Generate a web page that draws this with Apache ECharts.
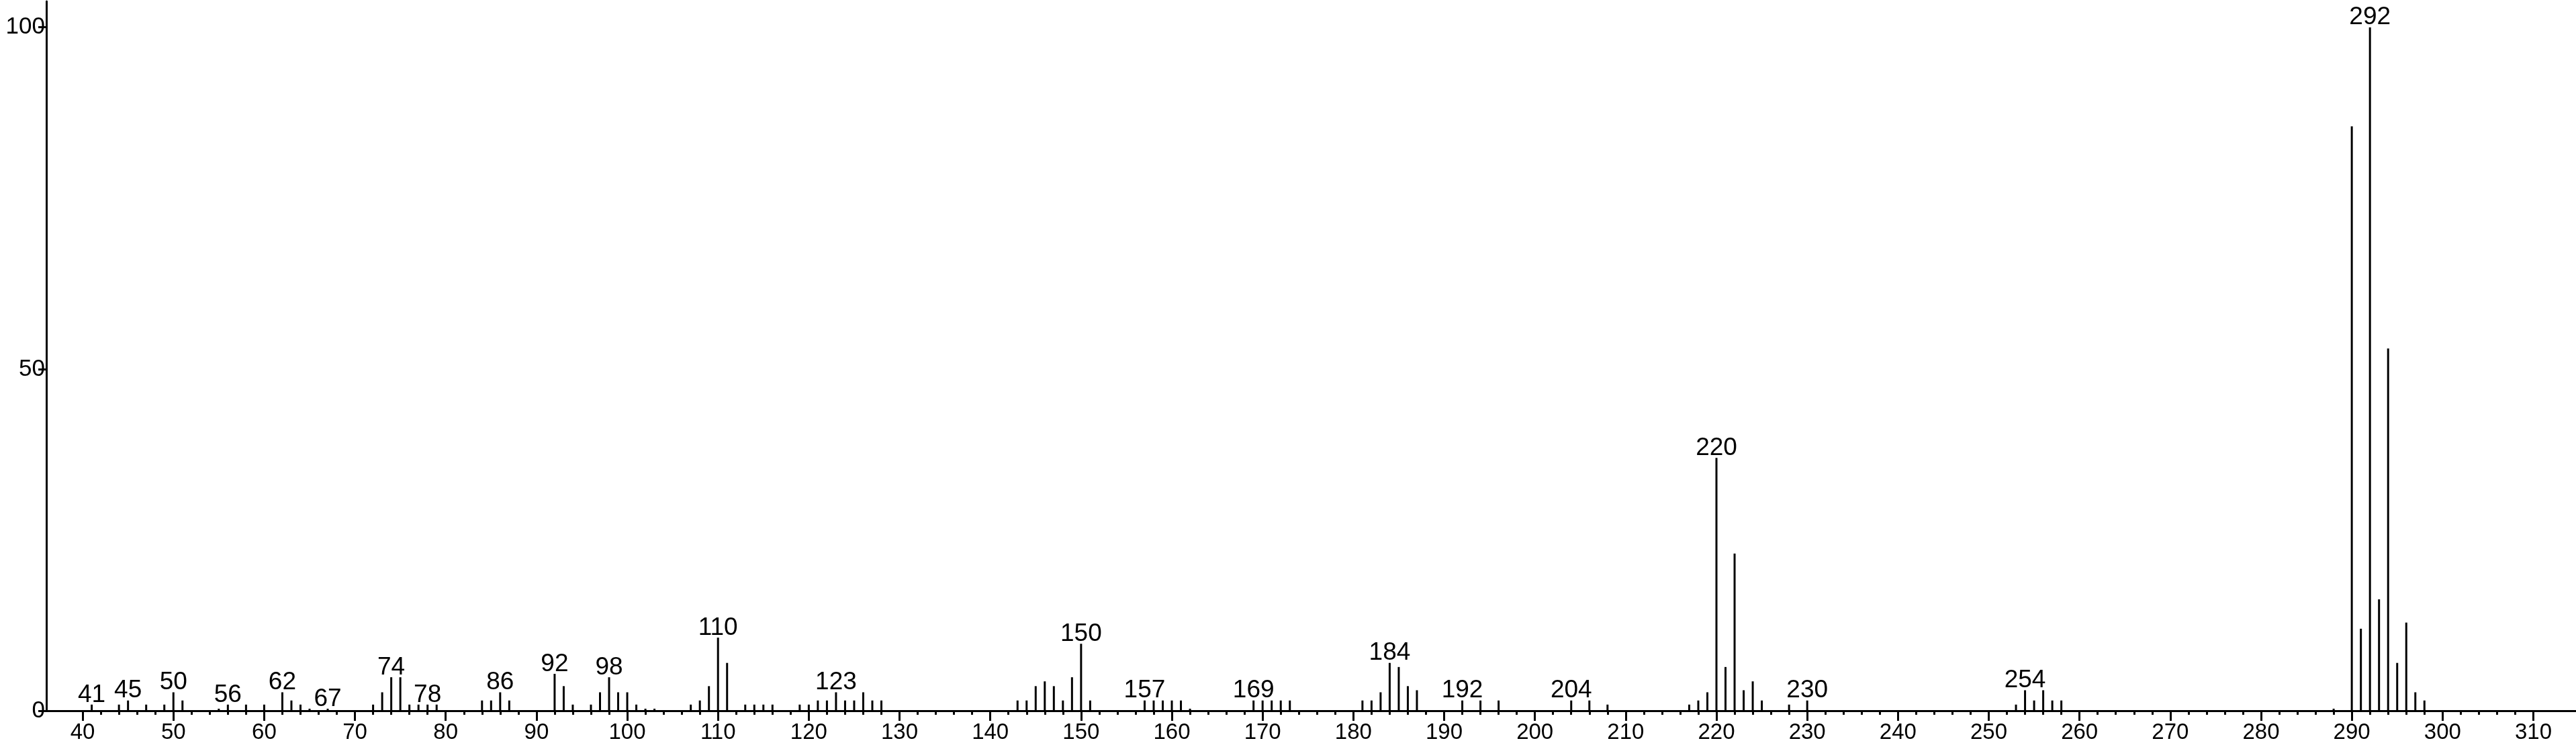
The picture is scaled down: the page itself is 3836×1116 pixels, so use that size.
<!DOCTYPE html>
<html><head><meta charset="utf-8">
<script src="https://cdn.jsdelivr.net/npm/echarts@6/dist/echarts.min.js"></script>
<style>html,body{margin:0;padding:0;background:#fff}#c{width:3836px;height:1116px}</style>
</head><body><div id="c"></div>
<script>
const mzValues = [41,44,45,47,49,50,51,55,56,58,60,62,63,64,65,67,72,73,74,75,76,77,78,79,
  84,85,86,87,92,93,94,96,97,98,99,100,101,102,103,107,108,109,110,111,113,114,115,116,119,120,
  121,122,123,124,125,126,127,128,143,144,145,146,147,148,149,150,151,157,158,159,160,161,162,
  169,170,171,172,173,181,182,183,184,185,186,187,192,194,196,204,206,208,217,218,219,220,221,
  222,223,224,225,228,230,253,254,255,256,257,258,288,290,291,292,293,294,295,296,297,298];
const intensities = [0.9,0.9,1.5,0.9,0.9,2.7,1.5,0.3,0.9,0.9,0.9,2.7,1.5,0.9,0.3,0.3,0.9,2.7,4.9,4.9,0.9,0.9,0.9,0.9,
  1.5,1.5,2.7,1.5,5.4,3.6,0.9,0.9,2.7,4.9,2.7,2.7,0.9,0.3,0.3,0.9,1.5,3.6,10.7,7.0,0.9,0.9,0.9,0.9,0.9,0.9,
  1.5,1.5,2.7,1.5,1.5,2.7,1.5,1.5,1.5,1.5,3.6,4.3,3.6,1.5,4.9,9.8,1.5,1.5,1.5,1.5,1.5,1.5,0.3,
  1.5,1.5,1.5,1.5,1.5,1.5,1.5,2.7,7.0,6.4,3.6,3.0,1.5,1.5,1.5,1.5,1.5,0.9,0.9,1.5,2.7,37.0,6.4,
  23.0,3.0,4.3,1.5,0.9,1.5,0.9,3.0,1.5,3.0,1.5,1.5,0.3,85.5,12.0,100,16.3,53.0,7.0,12.9,2.7,1.5];
const labeledMz = [41,45,50,56,62,67,74,78,86,92,98,110,123,150,157,169,184,192,204,220,230,254,292];
const xMajorTicks = [40,50,60,70,80,90,100,110,120,130,140,150,160,170,180,190,200,210,220,230,240,250,260,270,280,290,300,310];
const xMinorTicks = [42,44,46,48,52,54,56,58,62,64,66,68,72,74,76,78,82,84,86,88,92,94,96,98,102,104,106,108,
  112,114,116,118,122,124,126,128,132,134,136,138,142,144,146,148,152,154,156,158,162,164,166,168,
  172,174,176,178,182,184,186,188,192,194,196,198,202,204,206,208,212,214,216,218,222,224,226,228,
  232,234,236,238,242,244,246,248,252,254,256,258,262,264,266,268,272,274,276,278,282,284,286,288,
  292,294,296,298,302,304,306,308];
const yTicks = [0,50,100];

const FONT = "'Liberation Sans', Arial, sans-serif";
const black = '#000';
const data = mzValues.map((m, i) => ({
  value: [m, intensities[i]],
  label: { show: labeledMz.indexOf(m) >= 0 }
}));

const chart = echarts.init(document.getElementById('c'), null, {renderer: 'canvas'});
chart.setOption({
  animation: false,
  backgroundColor: '#fff',
  grid: {left: 69, right: 0, top: 2, bottom: 57, containLabel: false},
  xAxis: [{
    type: 'value', min: 36, max: 314.7, position: 'bottom',
    axisLine: {show: true, onZero: false, lineStyle: {color: black, width: 3}},
    axisTick: {show: true, customValues: xMajorTicks, length: 15, lineStyle: {color: black, width: 3}},
    axisLabel: {customValues: xMajorTicks, color: black, fontSize: 33, fontFamily: FONT, margin: 16},
    splitLine: {show: false}
  }, {
    type: 'value', min: 36, max: 314.7, position: 'bottom',
    axisLine: {show: false, onZero: false},
    axisTick: {show: true, customValues: xMinorTicks, length: 6, lineStyle: {color: black, width: 3}},
    axisLabel: {show: false},
    splitLine: {show: false}
  }],
  yAxis: {
    type: 'value', min: 0, max: 103.8,
    axisLine: {show: true, lineStyle: {color: black, width: 3}},
    axisTick: {show: true, customValues: yTicks, length: 12, lineStyle: {color: black, width: 3}},
    axisLabel: {customValues: yTicks, color: black, fontSize: 35, fontFamily: FONT, margin: 2},
    splitLine: {show: false}
  },
  series: [{
    type: 'bar', xAxisIndex: 0, yAxisIndex: 0, barWidth: 3,
    itemStyle: {color: black},
    label: {position: 'top', distance: -4, fontSize: 37, color: black, fontFamily: FONT,
      formatter: p => String(p.value[0])},
    data: data
  }]
});
</script></body></html>
